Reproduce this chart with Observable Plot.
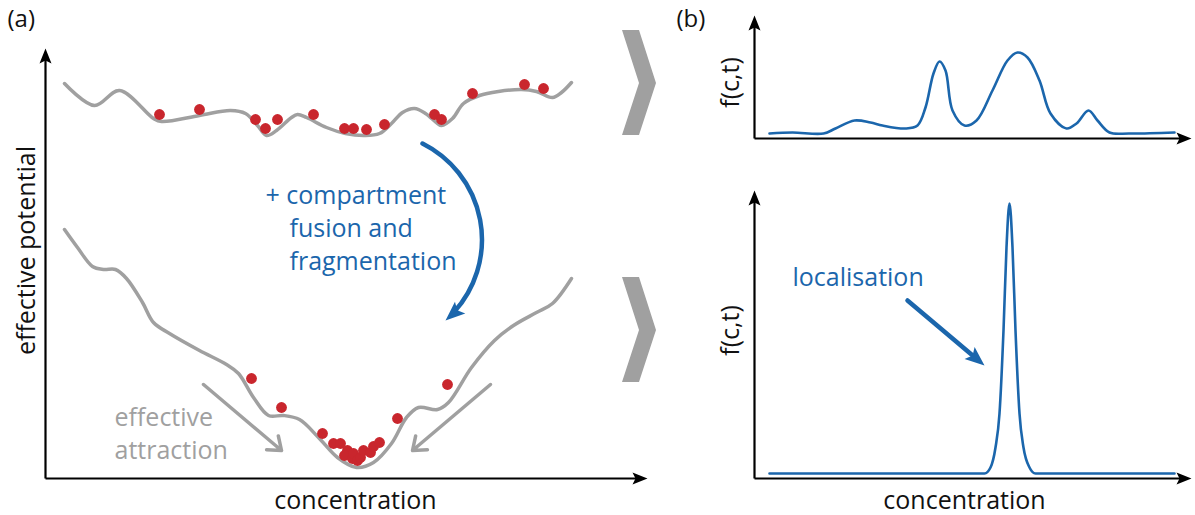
<!DOCTYPE html>
<html><head><meta charset="utf-8">
<script src="https://cdn.jsdelivr.net/npm/d3@7"></script>
<script src="https://cdn.jsdelivr.net/npm/@observablehq/plot@0.6"></script>
<style>body{margin:0;background:#fff}#chart svg{display:block}</style>
</head><body><div id="chart"></div>
<script>
const BLUE = "#1b66ac", RED = "#c9262d", GREY = "#a0a0a0";

// panel (a): upper effective potential (before fusion/fragmentation)
const upperPotential = [[64,83],[94,105],[119,90],[153,118],[161,121],[199,115],[230,110],[245,113],[257,125],[266,135],[276,130],[291,117],[297,114],[306,117],[326,127],[345,133],[364,135],[379,133],[391,123],[402,112],[414,108],[425,113],[437,123],[441,125],[452,118],[463,103],[479,95],[498,91],[521,89],[536,91],[552,97],[561,92],[571,82]];
const upperParticles = [[159,114],[199,109],[255,119],[265,128],[277,119],[313,114],[344,128],[353,128],[366,129],[384,124],[434,114],[441,119],[472,93],[524,84],[543,88]];

// panel (a): lower effective potential (with fusion/fragmentation)
const lowerPotential = [[64,229],[77,247],[92,266],[103,269],[115,269],[126,278],[142,302],[153,322],[169,333],[199,350],[226,364],[238,373],[253,397],[268,415],[283,415],[299,419],[318,437],[337,457],[356,467],[373,462],[391,443],[406,417],[418,407],[437,409],[448,402],[471,367],[494,340],[513,325],[536,312],[552,303],[571,278]];
const lowerParticles = [[251,378],[281,407],[322,433],[397,418],[447,384],[333,443],[340,443],[347,450],[344,455],[352,458],[353,453],[357,460],[360,457],[363,450],[370,452],[373,446],[379,442]];

// panel (b): distributions f(c,t)
const distBefore = [[769,133],[792,132],[823,133],[835,128],[854,120],[870,122],[882,125],[905,128],[917,125],[925,107],[933,73],[939,61],[945,70],[952,110],[964,125],[976,120],[992,90],[1007,60],[1017,52],[1027,57],[1039,80],[1050,113],[1066,128],[1076,123],[1088,110],[1097,120],[1109,132],[1129,133],[1174,132]];
const distAfter = [[769,473],[984,473],[990,467],[995,447],[999,413],[1003,330],[1006,247],[1009,203],[1012,247],[1015,330],[1019,413],[1023,447],[1029,467],[1035,473],[1174,473]];

// axes (arrows)
const axes = [
  {x1:45,y1:478,x2:45,y2:48},
  {x1:45,y1:478,x2:647,y2:478},
  {x1:754,y1:138,x2:754,y2:15},
  {x1:754,y1:138,x2:1191,y2:138},
  {x1:754,y1:478,x2:754,y2:190},
  {x1:754,y1:478,x2:1191,y2:478}
];
// annotation arrows
const attractionArrows = [{x1:203,y1:384,x2:281,y2:450},{x1:490,y1:384,x2:412,y2:450}];
const blueArrows = [
  {x1:422,y1:143,x2:445,y2:320,bend:56},
  {x1:907,y1:300,x2:984,y2:365,bend:0}
];
// chevrons between panels
const chevrons = [
  {g:1,y:30,x1:622,x2:639},{g:1,y:83,x1:639,x2:656},{g:1,y:135,x1:622,x2:639},
  {g:2,y:277,x1:622,x2:639},{g:2,y:330,x1:639,x2:656},{g:2,y:382,x1:622,x2:639}
];
// text labels
const panelLabels = [
  {t:"(a)",x:7,y:19},
  {t:"(b)",x:676,y:19}
];
const axisLabels = [
  {t:"concentration",x:355,y:500,r:0},
  {t:"concentration",x:964,y:500,r:0},
  {t:"effective potential",x:26,y:250,r:-90},
  {t:"f(c,t)",x:730,y:82,r:-90},
  {t:"f(c,t)",x:730,y:330,r:-90}
];
const blueLabels = [
  {t:"+ compartment",x:265,y:195},
  {t:"fusion and",x:289,y:228},
  {t:"fragmentation",x:289,y:261},
  {t:"localisation",x:792,y:277}
];
const greyLabels = [
  {t:"effective",x:114,y:417},
  {t:"attraction",x:114,y:450}
];

const ang = d => Math.atan2(d.x2 - d.x1, -(d.y2 - d.y1)) * 180 / Math.PI + (d.bend || 0);
const head = {draw(ctx, size) {
  const s = Math.sqrt(size / Math.PI) / 10;
  ctx.moveTo(0, 0);
  ctx.lineTo(-6 * s, 15 * s);
  ctx.lineTo(0, 12 * s);
  ctx.lineTo(6 * s, 15 * s);
  ctx.closePath();
}};

const chart = Plot.plot({
  width: 1195, height: 515,
  marginTop: 0, marginRight: 0, marginBottom: 0, marginLeft: 0,
  x: {domain: [0, 1195], axis: null},
  y: {domain: [515, 0], axis: null},
  style: {fontFamily: "'Open Sans', sans-serif", background: "#fff"},
  marks: [
    Plot.areaX(chevrons, {y: "y", x1: "x1", x2: "x2", z: "g", fill: GREY, curve: "linear"}),
    Plot.line(upperPotential, {stroke: GREY, strokeWidth: 3.5, curve: "catmull-rom"}),
    Plot.line(lowerPotential, {stroke: GREY, strokeWidth: 3.5, curve: "catmull-rom"}),
    Plot.dot(upperParticles, {r: 5.4, fill: RED}),
    Plot.dot(lowerParticles, {r: 5.4, fill: RED}),
    Plot.line(distBefore, {stroke: BLUE, strokeWidth: 2.6, curve: "catmull-rom"}),
    Plot.line(distAfter, {stroke: BLUE, strokeWidth: 2.6, curve: "monotone-x"}),
    Plot.arrow(axes, {x1: "x1", y1: "y1", x2: "x2", y2: "y2", stroke: "black", strokeWidth: 2.2, headLength: 0, insetEnd: 8, strokeLinecap: "butt"}),
    Plot.dot(axes, {x: "x2", y: "y2", symbol: head, r: 10, fill: "black", stroke: "none", rotate: ang}),
    Plot.arrow(attractionArrows, {x1: "x1", y1: "y1", x2: "x2", y2: "y2", stroke: GREY, strokeWidth: 3.5, headLength: 6.4, headAngle: 75}),
    Plot.arrow(blueArrows, {x1: "x1", y1: "y1", x2: "x2", y2: "y2", bend: 56, stroke: BLUE, strokeWidth: 4.5, headLength: 0, insetEnd: 12, filter: d => d.bend}),
    Plot.arrow(blueArrows, {x1: "x1", y1: "y1", x2: "x2", y2: "y2", stroke: BLUE, strokeWidth: 4.5, headLength: 0, insetEnd: 12, filter: d => !d.bend}),
    Plot.dot(blueArrows, {x: "x2", y: "y2", symbol: head, r: 13, fill: BLUE, stroke: "none", rotate: ang}),
    Plot.text(panelLabels, {x: "x", y: "y", text: "t", textAnchor: "start", fontSize: 24, fill: "#111"}),
    Plot.text(axisLabels, {x: "x", y: "y", text: "t", rotate: "r", textAnchor: "middle", fontSize: 25, fill: "#111"}),
    Plot.text(blueLabels, {x: "x", y: "y", text: "t", textAnchor: "start", fontSize: 25, fill: BLUE}),
    Plot.text(greyLabels, {x: "x", y: "y", text: "t", textAnchor: "start", fontSize: 25, fill: GREY})
  ]
});
document.getElementById("chart").append(chart);
</script>
</body></html>
